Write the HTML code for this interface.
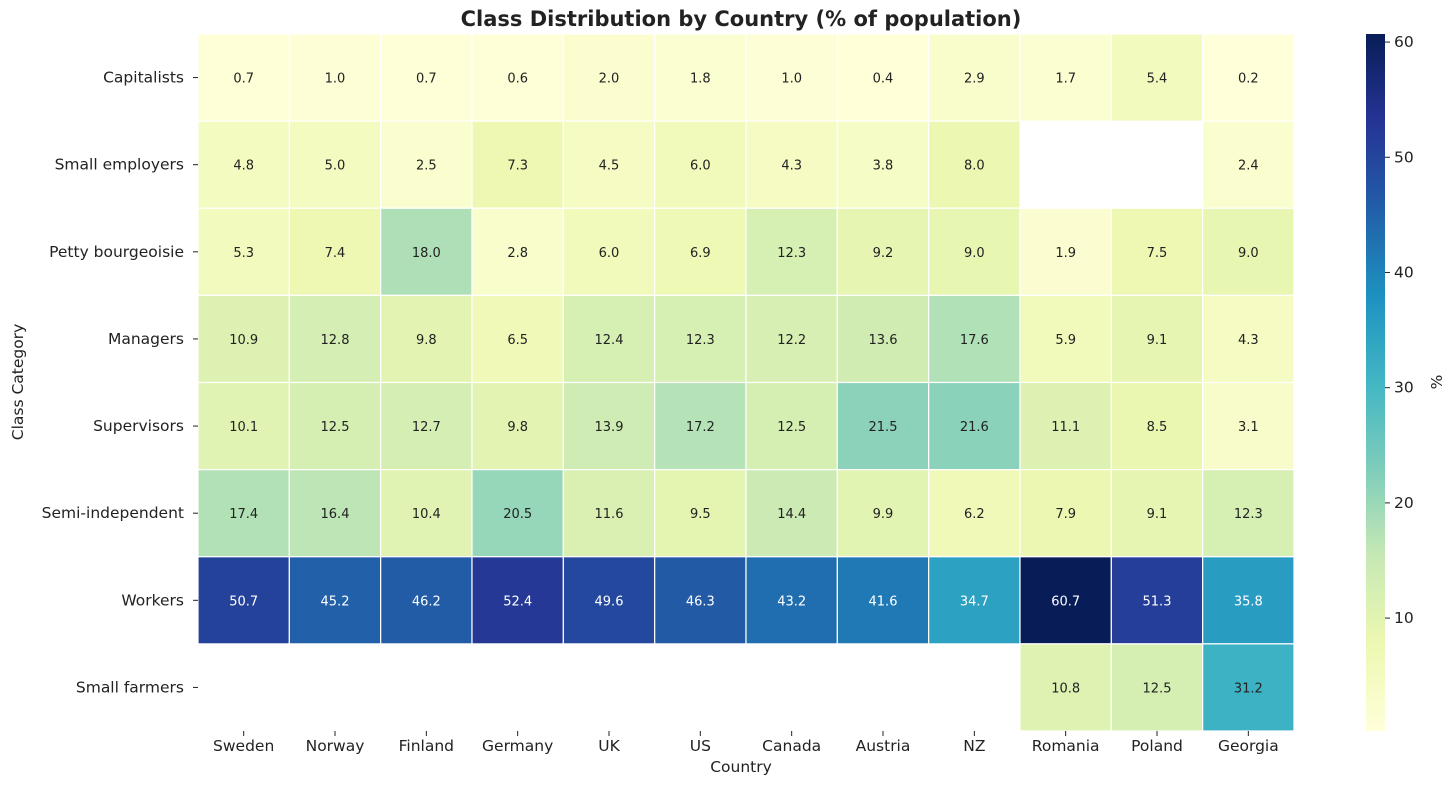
<!DOCTYPE html>
<html><head><meta charset="utf-8"><style>
body{margin:0;background:#fff;font-family:"Liberation Sans","DejaVu Sans",sans-serif;}
</style></head><body>
<svg id="chart" width="1456" height="785" xmlns="http://www.w3.org/2000/svg" font-family="DejaVu Sans, Liberation Sans, sans-serif">
<text x="741" y="26" text-anchor="middle" font-size="21" font-weight="bold" fill="#222">Class Distribution by Country (% of population)</text>
<text transform="translate(23,382) rotate(-90)" text-anchor="middle" font-size="15.5" fill="#222">Class Category</text>
<text x="741" y="772" text-anchor="middle" font-size="15.5" fill="#222">Country</text>
<g id="cells"></g>
<g id="colorbar"></g>
<text transform="translate(1442,382) rotate(-90)" text-anchor="middle" font-size="15.5" fill="#222">%</text>
</svg>
<script>
const countries=["Sweden","Norway","Finland","Germany","UK","US","Canada","Austria","NZ","Romania","Poland","Georgia"];
const classes=["Capitalists","Small employers","Petty bourgeoisie","Managers","Supervisors","Semi-independent","Workers","Small farmers"];
const capitalists=[0.7,1.0,0.7,0.6,2.0,1.8,1.0,0.4,2.9,1.7,5.4,0.2];
const smallEmployers=[4.8,5.0,2.5,7.3,4.5,6.0,4.3,3.8,8.0,null,null,2.4];
const pettyBourgeoisie=[5.3,7.4,18.0,2.8,6.0,6.9,12.3,9.2,9.0,1.9,7.5,9.0];
const managers=[10.9,12.8,9.8,6.5,12.4,12.3,12.2,13.6,17.6,5.9,9.1,4.3];
const supervisors=[10.1,12.5,12.7,9.8,13.9,17.2,12.5,21.5,21.6,11.1,8.5,3.1];
const semiIndependent=[17.4,16.4,10.4,20.5,11.6,9.5,14.4,9.9,6.2,7.9,9.1,12.3];
const workers=[50.7,45.2,46.2,52.4,49.6,46.3,43.2,41.6,34.7,60.7,51.3,35.8];
const smallFarmers=[null,null,null,null,null,null,null,null,null,10.8,12.5,31.2];
const colorTicks=[10,20,30,40,50,60];
const rows=[capitalists,smallEmployers,pettyBourgeoisie,managers,supervisors,semiIndependent,workers,smallFarmers];

const NS="http://www.w3.org/2000/svg";
const X0=198,X1=1294,Y0=34,Y1=731;
const cw=(X1-X0)/countries.length, ch=(Y1-Y0)/classes.length;
const all=rows.flat().filter(v=>v!=null);
const vmin=Math.min(...all), vmax=Math.max(...all);
const stops=["#ffffd9","#edf8b1","#c7e9b4","#7fcdbb","#41b6c4","#1d91c0","#225ea8","#253494","#081d58"];
function hex(h){return [1,3,5].map(i=>parseInt(h.substr(i,2),16));}
function color(v){let t=(v-vmin)/(vmax-vmin);t=Math.max(0,Math.min(1,t));const p=t*(stops.length-1);const i=Math.min(Math.floor(p),stops.length-2);const f=p-i;const a=hex(stops[i]),b=hex(stops[i+1]);return `rgb(${a.map((c,k)=>Math.round(c+(b[k]-c)*f)).join(",")})`;}
function mk(tag,attrs,parent){const e=document.createElementNS(NS,tag);for(const k in attrs)e.setAttribute(k,attrs[k]);parent.appendChild(e);return e;}
const g=document.getElementById("cells");
rows.forEach((row,r)=>{row.forEach((v,c)=>{
  if(v==null)return;
  const rect=mk("rect",{x:X0+c*cw,y:Y0+r*ch,width:cw,height:ch,fill:color(v),stroke:"#fff","stroke-width":1.2},g);
  
  
  const t=mk("text",{x:X0+(c+.5)*cw,y:Y0+(r+.5)*ch+5,"text-anchor":"middle","font-size":13,fill:v>33?"#fff":"#222"},g);
  t.textContent=v.toFixed(1);
  
  
});});
classes.forEach((n,r)=>{
  const y=Y0+(r+.5)*ch;
  mk("line",{x1:X0-5,x2:X0,y1:y,y2:y,stroke:"#222"},g);
  const t=mk("text",{x:X0-14,y:y+5,"text-anchor":"end","font-size":15.5,fill:"#222"},g);
  t.textContent=n;
  
  
});
countries.forEach((n,c)=>{
  const x=X0+(c+.5)*cw;
  mk("line",{x1:x,x2:x,y1:Y1,y2:Y1+5,stroke:"#222"},g);
  const t=mk("text",{x:x,y:Y1+20,"text-anchor":"middle","font-size":15.5,fill:"#222"},g);
  t.textContent=n;
  
  
});
const cb=document.getElementById("colorbar");
const CX=1366,CW=19;
const cy=v=>Y1-(v-vmin)/(vmax-vmin)*(Y1-Y0);
const defs=mk("defs",{},cb);
const lg=mk("linearGradient",{id:"cbg",x1:0,y1:1,x2:0,y2:0},defs);
stops.forEach((s,i)=>mk("stop",{offset:i/(stops.length-1),"stop-color":s},lg));
const bar=mk("rect",{x:CX,y:Y0,width:CW,height:Y1-Y0,fill:"url(#cbg)"},cb);


colorTicks.forEach(v=>{
  const y=cy(v);
  mk("line",{x1:CX+CW,x2:CX+CW+5,y1:y,y2:y,stroke:"#222"},cb);
  const t=mk("text",{x:CX+CW+9,y:y+5,"font-size":15.5,fill:"#222"},cb);
  t.textContent=v;
  
  
});
</script>
</body></html>
